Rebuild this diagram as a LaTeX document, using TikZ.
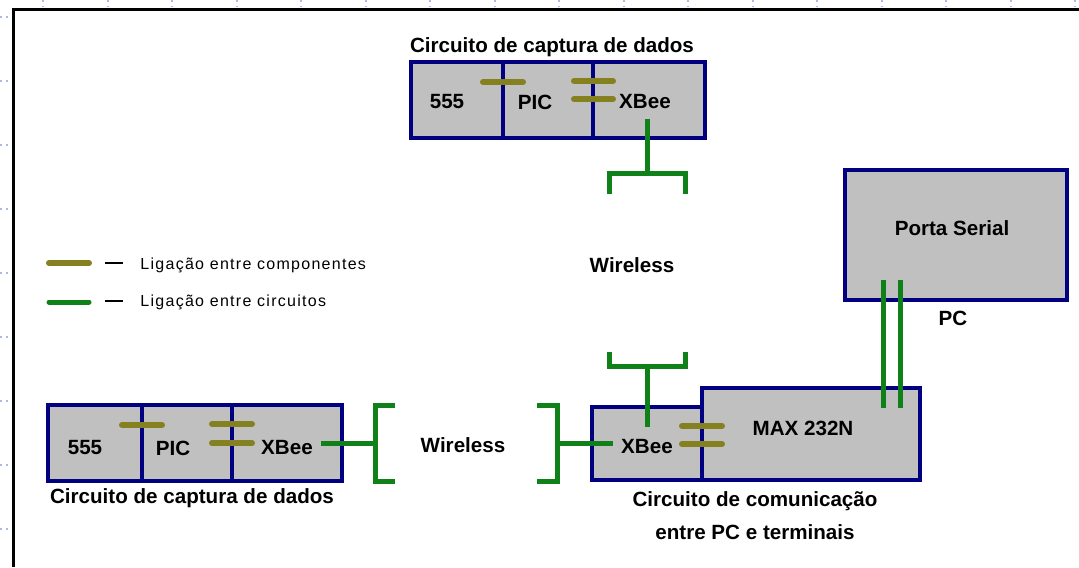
\documentclass[tikz,border=0pt]{standalone}
\usepackage{fontspec}
\setmainfont{Liberation Sans}
\usepackage{tikz}
\usetikzlibrary{positioning,calc}
\usepackage{xcolor}
\definecolor{navy}{RGB}{0,0,128}
\definecolor{boxgray}{RGB}{192,192,192}
\definecolor{wire}{RGB}{16,128,24}
\definecolor{olivebar}{RGB}{133,128,32}
\definecolor{gridblue}{RGB}{170,185,235}

\begin{document}
\begin{tikzpicture}[x=0.5pt,y=-0.5pt,
  cell/.style={draw=navy,fill=boxgray,line width=2pt,minimum height=38pt,inner sep=0pt,outer sep=0pt,anchor=north west},
  lbl/.style={font=\bfseries\fontsize{10.3}{16.5}\selectfont,inner sep=1pt},
  leg/.style={font=\fontsize{8}{10}\selectfont\addfontfeature{LetterSpace=8},anchor=west,inner sep=0pt},
  comp/.style={draw=olivebar,line width=3pt,line cap=round},
  circ/.style={draw=wire,line width=2.5pt}]
\useasboundingbox (0,0) rectangle (1079,567);
% faint grid marks and frame
\foreach \k in {0,...,8} \draw[gridblue,dotted,line width=1pt] (0,17+64*\k) -- (11,17+64*\k);
\foreach \k in {0,...,16} \draw[gridblue,dotted,line width=1pt] (43+64.5*\k,0) -- (43+64.5*\k,7);
\draw[line width=1.5pt] (13,567) -- (13,9.5) -- (1079,9.5);

% top capture circuit
\node[cell,minimum width=46pt] (t555) at (411,62) {};
\node[cell,minimum width=45pt] (tpic) at (t555.north east) {};
\node[cell,minimum width=56pt] (txbee) at (tpic.north east) {};
\node[lbl] (tl555) at (447,102) {555};
\node[lbl] (tlpic) at (535,102) {PIC};
\node[lbl] (tlxb) at (645,102) {XBee};
\node[lbl] (ttitle) at (552,47) {Circuito de captura de dados};
\draw[comp] ($(t555.north east)+(-20,20)$) -- ++(40,0);
\foreach \dy in {19,37} \draw[comp] ($(tpic.north east)+(-19,\dy)$) -- ++(39,0);
\draw[circ] ($(tlxb.south)+(2,7)$) -- ++(0,55) coordinate (tant);
\draw[circ] ($(tant)+(-38,20)$) -- ++(0,-20) -- ++(76,0) -- ++(0,20);
\node[lbl] (wtop) at (632,265) {Wireless};

% legend
\draw[comp] (49,263) -- (89,263);
\draw[line width=1pt] (105,263) -- (123,263);
\node[leg] (lg1) at (140,265) {Ligação entre componentes};
\draw[circ,line cap=round] (49,302) -- (89,302);
\draw[line width=1pt] (105,301) -- (123,301);
\node[leg] (lg2) at (140,302) {Ligação entre circuitos};

% bottom left capture circuit
\node[cell,minimum width=47pt] (b555) at (48,405) {};
\node[cell,minimum width=45pt] (bpic) at (b555.north east) {};
\node[cell,minimum width=55pt] (bxbee) at (bpic.north east) {};
\node[lbl] (bl555) at (85,448) {555};
\node[lbl] (blpic) at (173,448) {PIC};
\node[lbl] (blxb) at (287,448) {XBee};
\node[lbl] (btitle) at (192,498) {Circuito de captura de dados};
\draw[comp] ($(b555.north east)+(-20,20)$) -- ++(40,0);
\foreach \dy in {19,38} \draw[comp] ($(bpic.north east)+(-20,\dy)$) -- ++(40,0);

% wireless link
\coordinate (lbr) at (375,443);
\coordinate (rbr) at (557,443);
\node[lbl] (wbot) at (463,445) {Wireless};
\draw[circ] ([xshift=3pt]blxb.east |- lbr) -- (lbr);
\draw[circ] ($(lbr)+(20,-38)$) -- ++(-20,0) -- ++(0,76) -- ++(20,0);
\draw[circ] ($(rbr)+(-20,-38)$) -- ++(20,0) -- ++(0,76) -- ++(-20,0);

% communication circuit
\node[cell,minimum width=55pt,minimum height=36.5pt] (rxbee) at (592,407) {};
\node[cell,minimum width=109pt,minimum height=46pt] (rmax) at (702,388) {};
\node[lbl] (rlxb) at (647,447) {XBee};
\node[lbl] (rlmax) at (803,428) {MAX 232N};
\node[lbl,align=center] (rtitle) at (755,516) {Circuito de comunicação\\entre PC e terminais};
\draw[circ] (rbr) -- ([xshift=-3pt]rlxb.west |- rbr);
\foreach \dy in {19,37} \draw[comp] ($(rxbee.north east)+(-20,\dy)$) -- ++(40,0);
\draw[circ] ($(rlxb.north)+(0,-10)$) -- ++(0,-61) coordinate (bant);
\draw[circ] ($(bant)+(-38,-14)$) -- ++(0,14) -- ++(76,0) -- ++(0,-14);

% PC
\node[cell,minimum width=111pt,minimum height=65pt] (ps) at (845,170) {};
\node[lbl] (pslbl) at (952,228) {Porta Serial};
\node[lbl] (pc) at (953,318) {PC};
\foreach \dx in {38,55} \draw[circ] ($(ps.south west)+(\dx,-20)$) -- ++(0,128);
\end{tikzpicture}
\end{document}
